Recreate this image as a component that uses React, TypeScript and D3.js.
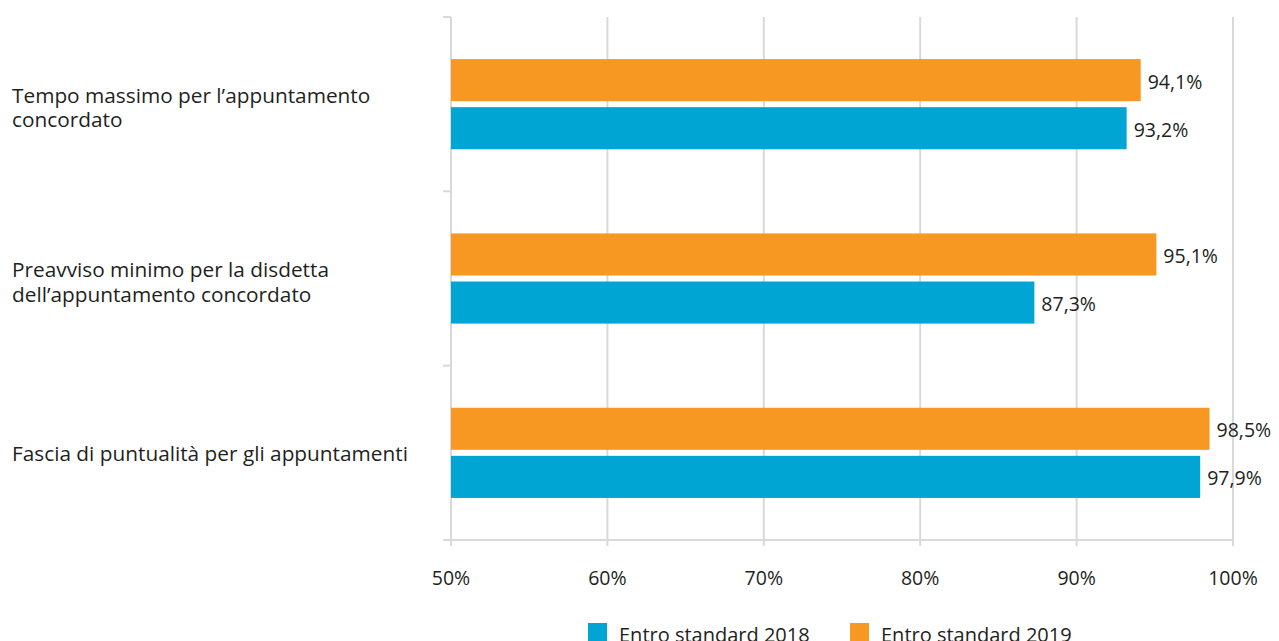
import React from "react";
import * as d3 from "d3";

const categories = [
  ["Tempo massimo per l’appuntamento", "concordato"],
  ["Preavviso minimo per la disdetta", "dell’appuntamento concordato"],
  ["Fascia di puntualità per gli appuntamenti"],
];
const seriesNames = ["Entro standard 2019", "Entro standard 2018"];
const values2019 = [94.1, 95.1, 98.5];
const values2018 = [93.2, 87.3, 97.9];
const xTicks = [50, 60, 70, 80, 90, 100];
const legendOrder = ["Entro standard 2018", "Entro standard 2019"];

const colors: Record<string, string> = {
  "Entro standard 2019": "#F79823",
  "Entro standard 2018": "#00A5D4",
};

const W = 1279;
const H = 641;
const FONT = "'Open Sans', sans-serif";
const TEXT = "#231F20";
const GRID = "#D9D9D9";

export default function App() {
  const x = d3.scaleLinear().domain([50, 100]).range([451, 1233]);
  const catKeys = categories.map((_, i) => String(i));
  const y0 = d3.scaleBand().domain(catKeys).range([17, 540]);
  const y1 = d3
    .scaleBand()
    .domain(seriesNames)
    .range([0, y0.bandwidth()])
    .paddingInner(0.125)
    .paddingOuter(0.875);
  const seriesValues: Record<string, number[]> = {
    "Entro standard 2019": values2019,
    "Entro standard 2018": values2018,
  };
  const fmt = (v: number) => v.toFixed(1).replace(".", ",") + "%";
  const catTicks = [17, ...catKeys.map((k) => (y0(k) as number) + y0.bandwidth())];

  return (
    <svg
      width={W}
      height={H}
      style={{ position: "absolute", left: 0, top: 0, background: "#fff" }}
      fontFamily={FONT}
    >
      {/* gridlines */}
      {xTicks.slice(1).map((t) => (
        <line key={t} x1={x(t)} x2={x(t)} y1={17} y2={546} stroke={GRID} strokeWidth={2} />
      ))}
      {/* y axis */}
      <line x1={451} x2={451} y1={17} y2={546} stroke={GRID} strokeWidth={2} />
      {catTicks.map((t, i) => (
        <line key={i} x1={443} x2={451} y1={t} y2={t} stroke={GRID} strokeWidth={2} />
      ))}
      {/* x axis */}
      <line x1={443} x2={1234} y1={540} y2={540} stroke={GRID} strokeWidth={2} />
      {xTicks.map((t) => (
        <text
          key={t}
          x={x(t)}
          y={577}
          textAnchor="middle"
          dominantBaseline="central"
          fontSize={19.5}
          fill={TEXT}
        >
          {t}%
        </text>
      ))}
      {/* bars */}
      {catKeys.map((k, i) => (
        <g key={k} transform={`translate(0,${y0(k)})`}>
          {seriesNames.map((s) => {
            const v = seriesValues[s][i];
            const yy = y1(s) as number;
            return (
              <g key={s}>
                <rect
                  x={x(50)}
                  y={yy}
                  width={x(v) - x(50)}
                  height={y1.bandwidth()}
                  fill={colors[s]}
                />
                <text
                  x={x(v) + 7}
                  y={yy + y1.bandwidth() / 2 + 1}
                  dominantBaseline="central"
                  fontSize={19.5}
                  fill={TEXT}
                >
                  {fmt(v)}
                </text>
              </g>
            );
          })}
        </g>
      ))}
      {/* category labels */}
      {catKeys.map((k, i) => {
        const lines = categories[i];
        const c = (y0(k) as number) + y0.bandwidth() / 2;
        const lh = 24.5;
        const start = c - ((lines.length - 1) * lh) / 2 + (lines.length > 1 ? 3 : 0);
        return (
          <text key={k} fontSize={20.8} fill={TEXT}>
            {lines.map((l, j) => (
              <tspan key={j} x={12} y={start + j * lh} dominantBaseline="central">
                {l}
              </tspan>
            ))}
          </text>
        );
      })}
      {/* legend */}
      {legendOrder.map((s, i) => {
        const lx = i === 0 ? 588 : 850;
        return (
          <g key={s}>
            <rect x={lx} y={623} width={19} height={19} fill={colors[s]} />
            <text x={lx + 31} y={634} dominantBaseline="central" fontSize={20} fill={TEXT}>
              {s}
            </text>
          </g>
        );
      })}
    </svg>
  );
}
